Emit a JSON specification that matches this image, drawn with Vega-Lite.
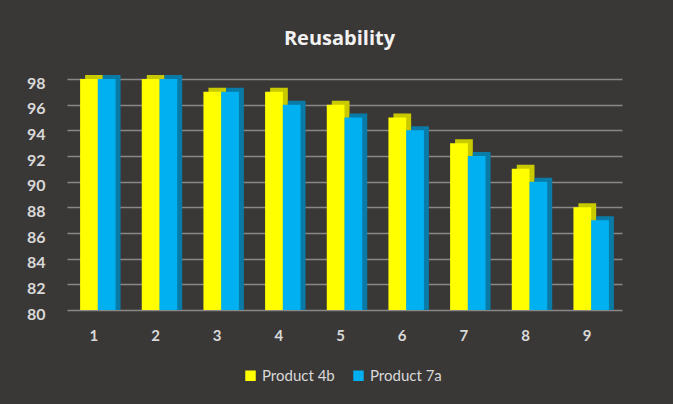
{
  "$schema": "https://vega.github.io/schema/vega-lite/v6.json",
  "width": 555,
  "height": 231,
  "autosize": {"type": "none"},
  "padding": {"left": 67, "top": 79, "right": 51, "bottom": 94},
  "background": "#3a3836",
  "title": {"text": "Reusability", "font": "Open Sans", "fontSize": 20, "fontWeight": "bold", "color": "#f2f2f2", "offset": 26, "anchor": "middle", "dx": -5},
  "data": {"values": [
    {"k": "1", "series": "Product 4b", "v": 98}, {"k": "1", "series": "Product 7a", "v": 98},
    {"k": "2", "series": "Product 4b", "v": 98}, {"k": "2", "series": "Product 7a", "v": 98},
    {"k": "3", "series": "Product 4b", "v": 97}, {"k": "3", "series": "Product 7a", "v": 97},
    {"k": "4", "series": "Product 4b", "v": 97}, {"k": "4", "series": "Product 7a", "v": 96},
    {"k": "5", "series": "Product 4b", "v": 96}, {"k": "5", "series": "Product 7a", "v": 95},
    {"k": "6", "series": "Product 4b", "v": 95}, {"k": "6", "series": "Product 7a", "v": 94},
    {"k": "7", "series": "Product 4b", "v": 93}, {"k": "7", "series": "Product 7a", "v": 92},
    {"k": "8", "series": "Product 4b", "v": 91}, {"k": "8", "series": "Product 7a", "v": 90},
    {"k": "9", "series": "Product 4b", "v": 88}, {"k": "9", "series": "Product 7a", "v": 87}
  ]},
  "encoding": {
    "x": {"field": "k", "type": "nominal", "scale": {"paddingInner": 0.425, "paddingOuter": 0.2125},
      "axis": {"title": null, "labelAngle": 0, "domain": false, "ticks": false, "labelPadding": 18, "labelFont": "Lato", "labelFontSize": 15, "labelFontWeight": "bold", "labelColor": "#d9d9d9", "labelOffset": -4}},
    "y": {"field": "v", "type": "quantitative", "scale": {"domain": [80, 98], "nice": false, "zero": false},
      "axis": {"title": null, "values": [80, 82, 84, 86, 88, 90, 92, 94, 96, 98], "domain": false, "ticks": false, "labelPadding": 22, "labelOffset": 4, "labelFont": "Lato", "labelFontSize": 16, "labelFontWeight": "bold", "labelColor": "#d9d9d9", "grid": true, "gridColor": "#8a8886", "gridWidth": 1.5}},
    "y2": {"datum": 80}
  },
  "layer": [
    {
      "mark": {"type": "bar", "yOffset": -4},
      "encoding": {
        "xOffset": {"field": "series", "type": "nominal", "scale": {"range": [5, 40.46], "paddingInner": 0, "paddingOuter": 0}},
        "color": {"field": "series", "type": "nominal", "scale": {"domain": ["Product 4b", "Product 7a"], "range": ["#c9c900", "#0a7aa6"]}, "legend": null}
      }
    },
    {
      "mark": {"type": "bar"},
      "encoding": {
        "xOffset": {"field": "series", "type": "nominal", "scale": {"paddingInner": 0, "paddingOuter": 0}},
        "color": {"field": "series", "type": "nominal", "scale": {"domain": ["Product 4b", "Product 7a"], "range": ["#ffff00", "#00b0f0"]},
          "legend": {"title": null, "orient": "none", "legendX": 176, "legendY": 289, "direction": "horizontal", "symbolType": "square", "symbolSize": 110, "symbolStrokeWidth": 0, "labelFont": "Lato", "labelFontSize": 15, "labelColor": "#d9d9d9", "columnPadding": 16}}
      }
    }
  ],
  "resolve": {"scale": {"color": "independent", "xOffset": "independent"}},
  "config": {"view": {"stroke": null}}
}
